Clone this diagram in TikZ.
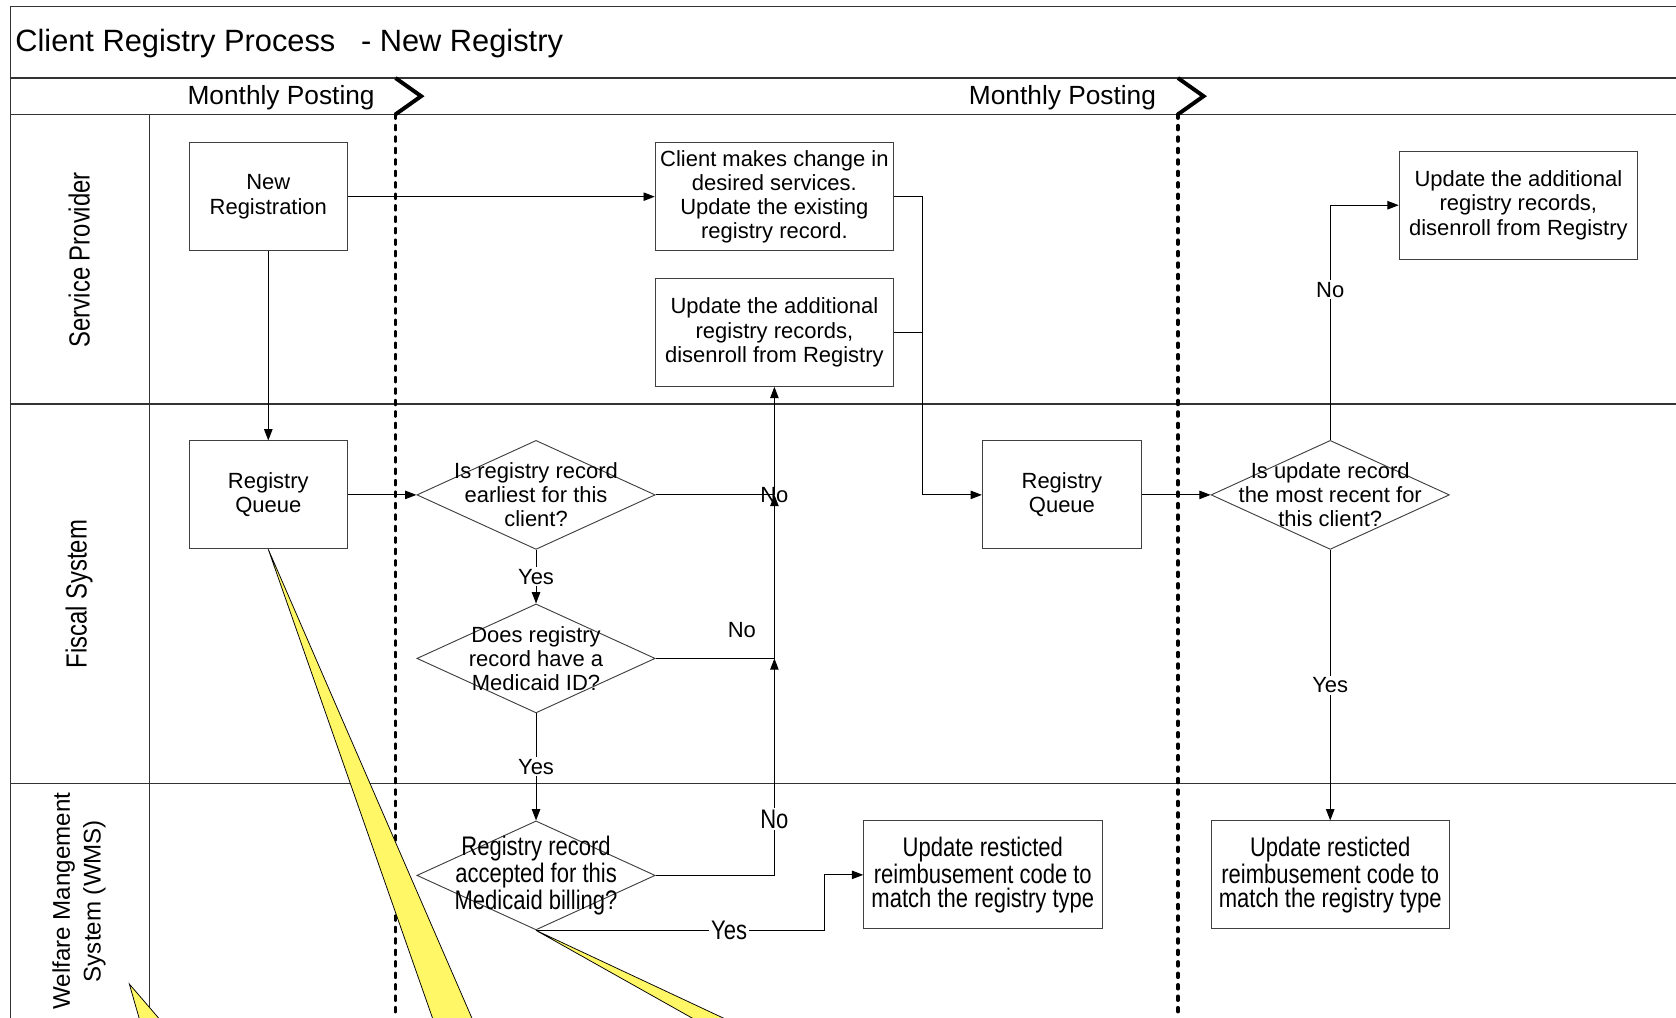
\documentclass[tikz,border=0pt]{standalone}
\usepackage{fontspec}
\setmainfont{Liberation Sans}
\newfontfamily\slimfamily[FakeStretch=0.82]{Liberation Sans}
\usetikzlibrary{arrows.meta,shapes.geometric}

\newcommand{\flowfont}{\fontsize{11.7}{12.9}\selectfont}
\newcommand{\slimfont}{\slimfamily\fontsize{14.3}{12.8}\selectfont}
\newcommand{\titlefont}{\fontsize{16.4}{19}\selectfont}
\newcommand{\phasefont}{\fontsize{14}{16}\selectfont}
\newcommand{\lanefont}{\fontsize{12.85}{16.4}\selectfont}
\newcommand{\slimlanefont}{\slimfamily\fontsize{15.5}{18}\selectfont}

\tikzset{
  frame/.style={draw=black!80, line width=0.8pt},
  milestone/.style={line width=2.1pt, line cap=round, dash pattern=on 1.9pt off 4.2pt},
  chevron/.style={line width=2.1pt},
  procbox/.style={draw=black!75, line width=0.5pt, minimum width=2.96cm, minimum height=2.02cm,
    inner sep=0pt, align=center, font=\flowfont},
  widebox/.style={procbox, minimum width=4.46cm},
  decision/.style={diamond, draw=black!75, line width=0.5pt, minimum width=4.46cm,
    minimum height=2.04cm, inner sep=0pt},
  dtext/.style={align=center, font=\flowfont, inner sep=0pt},
  flow/.style={draw, line width=0.5pt, ->},
  link/.style={draw, line width=0.5pt},
  choice/.style={fill=white, inner sep=1pt, font=\flowfont},
  lane/.style={rotate=90, align=center},
  callout/.style={fill=yellow!60, draw=black, line width=0.4pt},
}

\begin{document}
\begin{tikzpicture}[x=0.02cm, y=-0.02cm, >={Triangle[length=6pt, width=4.5pt]}]
  \useasboundingbox (0,0) rectangle (1568,952);

  % pool and lanes
  \draw[frame] (10,952) -- (10,6) -- (1568,6);
  \foreach \y in {73,107,378,733}
    \draw[frame] (10,\y) -- (1568,\y);
  \draw[frame] (140,107) -- (140,952);

  \node[font=\titlefont, anchor=west, inner sep=0pt] (title) at (14,40.5) {Client Registry Process\ \ \ - New Registry};
  \node[font=\phasefont] (post1) at (263,91.5) {Monthly Posting};
  \node[font=\phasefont] (post2) at (994,91.5) {Monthly Posting};

  \node[lane, font=\slimlanefont] (sp) at (74,243) {Service Provider};
  \node[lane, font=\slimlanefont] (fs) at (74,556) {Fiscal System};
  \node[lane, font=\lanefont] (wms) at (74,843) {Welfare Mangement\\System (WMS)};

  % milestones
  \foreach \x in {370,1102} {
    \draw[chevron] (\x,73) -- (\x+24,90) -- (\x,107);
    \draw[milestone] (\x,107) -- (\x,952);
  }

  % service provider
  \node[procbox] (newreg) at (251,184) {New\\Registration};
  \node[widebox] (change) at (724.5,184) {Client makes change in\\desired services.\\Update the existing\\registry record.};
  \node[widebox] (addl1) at (724.5,311) {Update the additional\\registry records,\\disenroll from Registry};
  \node[widebox] (addl2) at (1420.5,192) {Update the additional\\registry records,\\disenroll from Registry};

  % fiscal system
  \node[procbox] (rq1) at (251,463) {Registry\\Queue};
  \node[decision, label={[dtext, name=d1text]center:{Is registry record\\earliest for this\\client?}}] (d1) at (501.5,463) {};
  \node[decision, label={[dtext, name=d2text]center:{Does registry\\record have a\\Medicaid ID?}}] (d2) at (501.5,616) {};
  \node[procbox, minimum width=2.98cm] (rq2) at (993.5,463) {Registry\\Queue};
  \node[decision, label={[dtext, name=d4text]center:{Is update record\\the most recent for\\this client?}}] (d4) at (1244.5,463) {};

  % welfare management system
  \node[decision, label={[dtext, font=\slimfont, name=d3text]center:{Registry record\\accepted for this\\Medicaid billing?}}] (d3) at (501.5,819) {};
  \node[widebox, font=\slimfont] (restr1) at (919.5,818.5) {Update resticted\\reimbusement code to\\match the registry type};
  \node[widebox, font=\slimfont] (restr2) at (1244.5,818.5) {Update resticted\\reimbusement code to\\match the registry type};

  % connectors
  \draw[flow] (newreg) -- (change);
  \draw[flow] (newreg) -- (rq1);
  \draw[flow] (rq1) -- (d1);
  \draw[flow] (d1) -- node[choice] (yes1) {Yes} (d2);
  \draw[flow] (d2) -- node[choice] (yes2) {Yes} (d3);
  \draw[link] (d1.east) -- (addl1.south |- d1.east);
  \draw[flow] (addl1.south |- d1.east) -- (addl1.south);
  \draw[flow] (d2.east) -- (addl1.south |- d2.east) -- (addl1.south |- d1.east);
  \draw[flow] (d3.east) -- (addl1.south |- d3.east) -- node[choice, font=\slimfont, pos=0.26] (no3) {No} (addl1.south |- d2.east);
  \node[font=\flowfont, inner sep=0pt] (no1) at (addl1.south |- d1.east) {No};
  \node[font=\flowfont] (no2) at (694,589) {No};
  \draw[flow] (d3.south) -- node[choice, font=\slimfont, pos=0.67] (yes3) {Yes} ++(269.5,0) |- (restr1.west);
  \draw[flow] (change.east) -- ++(27,0) |- (rq2.west);
  \draw[link] (addl1.east) -- ++(27,0);
  \draw[flow] (rq2) -- (d4);
  \draw[flow] (d4.north) |- node[choice, pos=0.32] (no4) {No} (addl2.west);
  \draw[flow] (d4) -- node[choice] (yes4) {Yes} (restr2);

  % callouts
  \begin{scope}
    \clip (0,0) rectangle (1568,952);
    \coordinate (tipc) at (121,920.6);
    \filldraw[callout] (rq1.south) -- (417.8,990) -- (457.8,990) -- cycle;
    \filldraw[callout] (d3.south) -- (714.4,990) -- (756.9,990) -- cycle;
    \filldraw[callout] (tipc) -- (140.9,990) -- (180.7,990) -- cycle;
  \end{scope}
\end{tikzpicture}
\end{document}
